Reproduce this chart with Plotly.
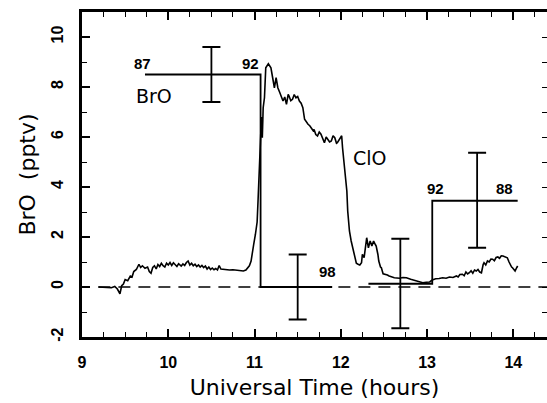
import plotly.graph_objects as go

# ClO trace (pptv scale as plotted)
clo_t = [9.19, 9.28, 9.34, 9.38, 9.41, 9.44, 9.46, 9.48, 9.50, 9.53, 9.56, 9.58, 9.60, 9.63, 9.66, 9.68,
         9.70, 9.73, 9.76, 9.78, 9.80, 9.82, 9.84, 9.86, 9.88, 9.90, 9.92, 9.94, 9.96, 9.98, 10.00, 10.02,
         10.04, 10.06, 10.08, 10.10, 10.12, 10.15, 10.17, 10.19, 10.21, 10.23, 10.25, 10.27, 10.29, 10.31,
         10.33, 10.35, 10.37, 10.39, 10.41, 10.43, 10.45, 10.47, 10.49, 10.51, 10.53, 10.55, 10.57, 10.59,
         10.61, 10.63, 10.67, 10.71, 10.75, 10.79, 10.83, 10.87, 10.90, 10.92, 10.94, 10.96, 10.98, 10.99,
         11.01, 11.03, 11.04, 11.05, 11.06, 11.07, 11.08, 11.09, 11.10, 11.115, 11.13, 11.16, 11.19, 11.21,
         11.23, 11.25, 11.27, 11.29, 11.31, 11.33, 11.35, 11.37, 11.39, 11.40, 11.42, 11.44, 11.46, 11.48,
         11.50, 11.52, 11.54, 11.56, 11.58, 11.60, 11.62, 11.64, 11.66, 11.68, 11.69, 11.71, 11.73, 11.75,
         11.77, 11.79, 11.81, 11.83, 11.85, 11.87, 11.89, 11.91, 11.93, 11.95, 11.96, 11.98, 12.00, 12.01,
         12.02, 12.04, 12.06, 12.07, 12.08, 12.10, 12.12, 12.14, 12.16, 12.18, 12.20, 12.22, 12.24, 12.25,
         12.27, 12.29, 12.30, 12.32, 12.34, 12.36, 12.38, 12.40, 12.41, 12.43, 12.44, 12.46, 12.47, 12.49,
         12.52, 12.54, 12.56, 12.59, 12.62, 12.65, 12.68, 12.72, 12.76, 12.81, 12.84, 12.87, 12.91, 12.95,
         12.99, 13.03, 13.06, 13.10, 13.14, 13.18, 13.22, 13.26, 13.30, 13.34, 13.36, 13.38, 13.41, 13.43,
         13.45, 13.47, 13.49, 13.51, 13.53, 13.55, 13.57, 13.59, 13.61, 13.63, 13.65, 13.66, 13.68, 13.70,
         13.72, 13.74, 13.76, 13.78, 13.80, 13.82, 13.84, 13.86, 13.88, 13.90, 13.93, 13.95, 13.96, 13.98,
         13.99, 14.01, 14.02, 14.04, 14.05]
clo_v = [0.00, 0.00, -0.03, 0.02, -0.08, -0.27, 0.05, 0.12, 0.30, 0.25, 0.44, 0.40, 0.62, 0.70, 0.91, 0.78,
         0.85, 0.75, 0.80, 0.62, 0.55, 0.78, 0.85, 0.72, 0.90, 0.82, 0.95, 0.85, 0.80, 0.95, 0.88, 0.98,
         0.86, 0.97, 0.90, 0.82, 0.93, 0.84, 0.92, 0.86, 0.98, 1.04, 0.88, 0.95, 0.85, 0.91,
         0.82, 0.88, 0.80, 0.86, 0.78, 0.84, 0.72, 0.80, 0.70, 0.76, 0.69, 0.74, 0.68, 0.86,
         0.72, 0.71, 0.69, 0.68, 0.69, 0.67, 0.66, 0.64, 0.68, 0.77, 0.85, 1.04, 1.40, 1.70,
         2.10, 2.60, 3.40, 4.20, 5.10, 6.00, 6.80, 5.97, 7.17, 7.57, 8.77, 8.93, 8.77, 8.37,
         7.97, 8.37, 7.97, 7.80, 7.64, 7.44, 7.60, 7.31, 7.70, 7.64, 7.45, 7.51, 7.70, 7.57,
         7.62, 7.44, 7.35, 7.17, 6.71, 6.60, 6.51, 6.45, 6.37, 6.25, 6.30, 6.10, 6.04, 6.20,
         6.11, 5.90, 5.77, 6.00, 5.91, 5.80, 5.84, 6.05, 5.97, 5.75, 5.77, 5.90, 5.97, 6.05,
         5.57, 4.77, 4.10, 3.84, 3.04, 2.24, 1.84, 1.50, 1.17, 0.95, 0.91, 0.88, 0.97, 1.31,
         1.17, 1.60, 1.97, 1.57, 1.84, 1.64, 1.84, 1.70, 1.64, 1.30, 1.04, 0.80, 0.77, 0.53,
         0.51, 0.48, 0.44, 0.40, 0.37, 0.36, 0.35, 0.38, 0.37, 0.31, 0.28, 0.24, 0.20, 0.17,
         0.19, 0.20, 0.28, 0.33, 0.34, 0.37, 0.35, 0.40, 0.38, 0.44, 0.40, 0.50, 0.51, 0.45,
         0.60, 0.52, 0.57, 0.65, 0.55, 0.68, 0.64, 0.70, 0.60, 0.57, 0.90, 0.97, 0.88, 1.04,
         1.00, 1.12, 1.11, 1.05, 1.18, 1.20, 1.15, 1.25, 1.24, 1.20, 1.17, 1.00, 0.91, 0.80,
         0.77, 0.70, 0.64, 0.78, 0.84]

# BrO averages (step segments)
bro1_x = [9.73, 11.07, 11.07, 11.90]
bro1_y = [8.5, 8.5, 0.0, 0.0]
bro2_x = [12.32, 13.06, 13.06, 14.05]
bro2_y = [0.13, 0.13, 3.45, 3.45]

# error bars
err_x = [10.50, 11.50, 12.69, 13.58]
err_y = [8.5, 0.0, 0.15, 3.47]
err_plus = [1.1, 1.3, 1.78, 1.9]
err_minus = [1.1, 1.3, 1.80, 1.9]

zero_x = [9.19, 14.39]
zero_y = [0, 0]

# flight labels
flight_labels = ["87", "92", "98", "92", "88"]
flight_x = [9.70, 10.95, 11.84, 13.10, 13.90]
flight_y = [8.95, 8.95, 0.62, 3.96, 3.96]

species_labels = ["BrO", "ClO"]
species_x = [9.84, 12.34]
species_y = [7.64, 5.16]

x_ticks = [9, 10, 11, 12, 13, 14]
y_ticks = [-2, 0, 2, 4, 6, 8, 10]

fig = go.Figure()
fig.add_trace(go.Scatter(x=zero_x, y=zero_y, mode="lines",
                         line=dict(color="black", width=1.7, dash="12px,8px"), hoverinfo="skip"))
fig.add_trace(go.Scatter(x=clo_t, y=clo_v, mode="lines",
                         line=dict(color="black", width=1.6), hoverinfo="skip"))
fig.add_trace(go.Scatter(x=bro1_x + [None] + bro2_x, y=bro1_y + [None] + bro2_y, mode="lines",
                         line=dict(color="black", width=1.8), hoverinfo="skip"))
fig.add_trace(go.Scatter(x=err_x, y=err_y, mode="markers", marker=dict(size=1, color="black"),
                         error_y=dict(type="data", symmetric=False, array=err_plus, arrayminus=err_minus,
                                      color="black", thickness=1.8, width=9),
                         hoverinfo="skip"))
fig.add_trace(go.Scatter(x=[None], y=[None], yaxis="y2", hoverinfo="skip"))

for t, xx, yy in zip(flight_labels, flight_x, flight_y):
    fig.add_annotation(x=xx, y=yy, text="<b>" + t + "</b>", showarrow=False,
                       font=dict(family="Liberation Sans", size=15, color="black"))
for t, xx, yy in zip(species_labels, species_x, species_y):
    fig.add_annotation(x=xx, y=yy, text=t, showarrow=False,
                       font=dict(family="DejaVu Sans", size=19, color="black"))

fig.update_layout(
    width=547, height=403,
    margin=dict(l=82, r=0, t=12, b=66),
    paper_bgcolor="white", plot_bgcolor="white",
    showlegend=False,
    xaxis=dict(range=[9, 14.39], tickvals=x_ticks, ticktext=["<b>%d</b>" % v for v in x_ticks],
               ticks="inside", ticklen=8, tickwidth=1.6, ticklabelstandoff=9,
               tickcolor="black", showline=True, linecolor="black", linewidth=2.5, mirror="ticks",
               showgrid=False, zeroline=False,
               minor=dict(dtick=0.25, tick0=9, ticks="inside", ticklen=5, tickwidth=1.4, tickcolor="black"),
               tickfont=dict(family="Liberation Sans", size=16, color="black"),
               title=dict(text="Universal Time (hours)", standoff=10,
                          font=dict(family="DejaVu Sans", size=22, color="black"))),
    yaxis=dict(range=[-2, 11], tickvals=y_ticks, ticktext=["<b>%d</b>" % v for v in y_ticks],
               ticks="inside", ticklen=8, tickwidth=1.6, ticklabelstandoff=10,
               tickcolor="black", showline=True, linecolor="black", linewidth=2.5, mirror=False,
               showgrid=False, zeroline=False, tickangle=-90,
               minor=dict(dtick=1, tick0=0, ticks="inside", ticklen=5, tickwidth=1.4, tickcolor="black"),
               tickfont=dict(family="Liberation Sans", size=16, color="black"),
               title=dict(text="BrO&nbsp;&nbsp;(pptv)", standoff=8,
                          font=dict(family="DejaVu Sans", size=22, color="black"))),
    yaxis2=dict(range=[-2, 11], overlaying="y", side="right", dtick=1, tick0=0, ticks="inside",
                ticklen=5, tickwidth=1.4, tickcolor="black", showticklabels=False, showline=False,
                showgrid=False, zeroline=False),
)

fig.write_html("out.html")
